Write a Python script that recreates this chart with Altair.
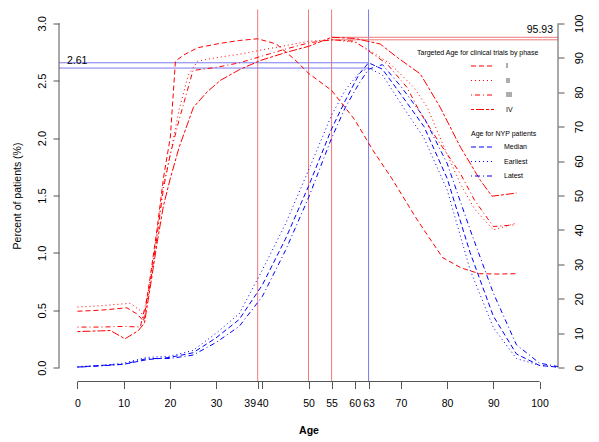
import altair as alt
import pandas as pd

FONT = "Liberation Sans"

# ---------------- data ----------------
phases = ["I", "II", "III", "IV"]
stats = ["Median", "Earliest", "Latest"]

# Targeted age for clinical trials by phase (right axis, 0-100)
I_age = [0, 5, 10.7, 13, 14.3, 15.7, 17.2, 18.6, 20.1, 21.2, 23, 26, 31, 35, 39, 43, 47, 50, 55, 60, 64, 68, 73.5, 79, 83, 87, 91, 95]
I_val = [16.4, 16.7, 17.4, 15.5, 13.5, 26, 40, 55, 67, 89, 90.8, 92.9, 94.2, 95.0, 95.5, 94.0, 89.5, 85.5, 80.5, 72, 63, 55, 43, 32, 29, 27.3, 27.2, 27.3]

II_age = [0, 5, 11.4, 13.6, 14.5, 15.7, 17.2, 18.6, 20.1, 22, 24, 26, 30, 35, 40, 45, 50, 55, 60, 63.4, 67.7, 72.8, 75.7, 80, 83, 86, 90, 95]
II_val = [17.6, 18.0, 18.7, 16.6, 14, 25, 39, 53, 62, 75, 85, 89, 90, 91, 92.3, 93.5, 94.8, 95.2, 94.5, 92, 88.2, 81.4, 75.6, 62, 53, 46, 40, 42]

III_age = [0, 5, 10, 13.6, 15.7, 17.2, 18.6, 20.1, 22, 25, 30, 35, 40, 45, 50, 55, 60, 63.4, 67, 71.3, 74.2, 78, 82.9, 86, 90, 95]
III_val = [11.8, 11.8, 12, 11.8, 24, 38, 52, 62, 72, 86.3, 87.2, 88.5, 90.5, 92.5, 94.3, 95.2, 94.8, 91.6, 88.2, 81.4, 74, 66, 56.3, 48.5, 41, 41.5]

IV_age = [0, 5, 7.1, 10.3, 13.2, 14.5, 15.7, 17.2, 18.6, 20.1, 22, 25.1, 28, 30.9, 35, 39.6, 45.3, 50, 55, 60, 65.5, 69.2, 74.2, 78.5, 82.9, 87.2, 89.7, 95]
IV_val = [10.5, 10.7, 10.8, 8.4, 10.8, 13, 23, 36, 47, 55, 64, 75.6, 80, 83.4, 86.5, 89.2, 91.6, 93.3, 95.93, 95.6, 94, 90.1, 85.3, 75.6, 64, 54.4, 49.8, 50.7]

# Age for NYP patients (left axis, percent)
nyp_age = [0, 5, 10, 15, 20, 25, 30, 35, 40, 45, 50, 55, 58, 61, 63, 66, 70, 75, 80, 85, 90, 95, 100, 104]
median_pct = [0.005, 0.02, 0.03, 0.07, 0.09, 0.13, 0.26, 0.42, 0.72, 1.12, 1.58, 2.08, 2.33, 2.56, 2.656, 2.6, 2.38, 2.1, 1.65, 1.0, 0.45, 0.12, 0.02, 0.005]
earliest_pct = [0.01, 0.02, 0.04, 0.09, 0.10, 0.15, 0.30, 0.47, 0.85, 1.25, 1.72, 2.2, 2.42, 2.57, 2.61, 2.55, 2.3, 2.0, 1.55, 0.85, 0.35, 0.08, 0.02, 0.005]
latest_pct = [0.005, 0.015, 0.03, 0.08, 0.08, 0.11, 0.22, 0.36, 0.62, 1.02, 1.48, 2.0, 2.27, 2.48, 2.6, 2.64, 2.45, 2.18, 1.78, 1.2, 0.65, 0.2, 0.04, 0.01]

x_ticks = [0, 10, 20, 30, 39, 40, 50, 55, 60, 63, 70, 80, 90, 100]
left_ticks = [0, 0.5, 1.0, 1.5, 2.0, 2.5, 3.0]
right_ticks = [0, 10, 20, 30, 40, 50, 60, 70, 80, 90, 100]
red_vlines = [39, 50, 55]
blue_vlines = [63]
blue_hlines = [2.656, 2.61]
red_hlines = [95.93, 95.2]
blue_label = [2.61]
red_label = [95.93]

X_DOMAIN = [-4, 104]
YL_DOMAIN = [-0.12, 3.12]
YR_DOMAIN = [-4, 104]

RED = "#ff0000"
BLUE = "#0000ff"
RED_GUIDE = "#ee7a7a"
BLUE_GUIDE = "#7a7aee"
AXIS_COL = "#555555"

# ---------------- tables ----------------
red_parts = []
for p, a, v in zip(phases, [I_age, II_age, III_age, IV_age], [I_val, II_val, III_val, IV_val]):
    red_parts.append(pd.DataFrame({"age": a, "v": v, "phase": p}))
df_red = pd.concat(red_parts, ignore_index=True)

blue_parts = []
for s, v in zip(stats, [median_pct, earliest_pct, latest_pct]):
    blue_parts.append(pd.DataFrame({"age": nyp_age, "v": v, "stat": s}))
df_blue = pd.concat(blue_parts, ignore_index=True)

# ---------------- scales / axes ----------------
xscale = alt.Scale(domain=X_DOMAIN, nice=False, zero=False)
ylscale = alt.Scale(domain=YL_DOMAIN, nice=False, zero=False)
yrscale = alt.Scale(domain=YR_DOMAIN, nice=False, zero=False)

xaxis = alt.Axis(values=x_ticks, format="d", title="Age", labelOverlap=False, labelFlush=False,
                 domain=False, grid=False, tickSize=7, tickColor=AXIS_COL, labelPadding=10,
                 labelFontSize=10.5, titleFontSize=10.5, titleFontWeight="bold",
                 titleBaseline="top", titleY=44,
                 labelOffset={"condition": {"test": "datum.value == 39", "value": -8}, "value": 0})
ylaxis = alt.Axis(orient="left", values=left_ticks, format=".1f", labelAngle=270, labelAlign="center",
                  labelBaseline="alphabetic", labelPadding=8, tickSize=6, tickColor=AXIS_COL,
                  domain=False, grid=False, labelFontSize=11,
                  title="Percent of patients (%)", titleAngle=270, titleAlign="center",
                  titleBaseline="alphabetic", titleX=-39, titleY=186, titleFontSize=10.5,
                  titleFontWeight="normal")
yraxis = alt.Axis(orient="right", values=right_ticks, format="d", labelAngle=270, labelAlign="center",
                  labelBaseline="top", labelPadding=9, tickSize=6, tickColor=AXIS_COL,
                  domain=False, grid=False, labelFontSize=11, title=None)

X = lambda f: alt.X(f, type="quantitative", scale=xscale, axis=xaxis)
YL = lambda f: alt.Y(f, type="quantitative", scale=ylscale, axis=ylaxis)
YR = lambda f: alt.Y(f, type="quantitative", scale=yrscale, axis=yraxis)

legend_common = dict(orient="none", titleFontSize=7, titleFontWeight="normal", titleFont=FONT,
                     titleColor="black", labelFontSize=7, labelFont=FONT, labelColor="black",
                     symbolType="M-3,0H3", symbolSize=59, symbolStrokeWidth=1.1, padding=0,
                     direction="vertical", titlePadding=6, rowPadding=6.5)
red_legend = alt.Legend(title="Targeted Age for clinical trials by phase", legendX=358, legendY=39,
                        symbolOffset=61, labelOffset=19, **legend_common)
blue_legend = alt.Legend(title="Age for NYP patients", legendX=412, legendY=120,
                         symbolOffset=7, labelOffset=17, **legend_common)

dash_red = [[5, 3], [1, 3], [1, 3, 5, 3], [3, 2, 8, 2]]
dash_blue = [[5, 3], [1, 3], [1, 3, 5, 3]]

# ---------------- left (percent) group ----------------
vr_red = alt.Chart(pd.DataFrame({"x": red_vlines})).mark_rule(color=RED_GUIDE, strokeWidth=1).encode(x=X("x"))
vr_blue = alt.Chart(pd.DataFrame({"x": blue_vlines})).mark_rule(color=BLUE_GUIDE, strokeWidth=1).encode(x=X("x"))
hr_blue = alt.Chart(pd.DataFrame({"y": blue_hlines, "x": [X_DOMAIN[0]] * 2, "x2": blue_vlines * 2})).mark_rule(
    color=BLUE_GUIDE, strokeWidth=1).encode(x=X("x"), x2="x2", y=YL("y"))
blue_lines = alt.Chart(df_blue).mark_line(strokeWidth=1).encode(
    x=X("age"), y=YL("v"),
    color=alt.Color("stat:N", scale=alt.Scale(domain=stats, range=[BLUE] * 3), legend=blue_legend),
    strokeDash=alt.StrokeDash("stat:N", scale=alt.Scale(domain=stats, range=dash_blue), legend=blue_legend),
    detail="stat:N")
blue_text = alt.Chart(pd.DataFrame({"y": blue_label, "x": [X_DOMAIN[0]]})).mark_text(
    align="left", baseline="alphabetic", dx=8, dy=-4.5, fontSize=10.5, font=FONT, color="black").encode(
    x=X("x"), y=YL("y"), text=alt.Text("y:Q", format=".2f"))
bottom_line = alt.Chart(pd.DataFrame({"x": [x_ticks[0]], "x2": [x_ticks[-1]], "y": [YL_DOMAIN[0]]})).mark_rule(
    color=AXIS_COL, strokeWidth=1).encode(x=X("x"), x2="x2", y=YL("y"))
left_line = alt.Chart(pd.DataFrame({"x": [X_DOMAIN[0]], "y": [left_ticks[0]], "y2": [left_ticks[-1]]})).mark_rule(
    color=AXIS_COL, strokeWidth=1).encode(x=X("x"), y=YL("y"), y2="y2")

left_group = alt.layer(vr_red, vr_blue, hr_blue, bottom_line, left_line, blue_lines, blue_text)

# ---------------- right (trials) group ----------------
hr_red = alt.Chart(pd.DataFrame({"y": red_hlines, "x": [red_vlines[-1]] * 2, "x2": [X_DOMAIN[1]] * 2})).mark_rule(
    color=RED_GUIDE, strokeWidth=1).encode(x=X("x"), x2="x2", y=YR("y"))
red_lines = alt.Chart(df_red).mark_line(strokeWidth=1).encode(
    x=X("age"), y=YR("v"),
    color=alt.Color("phase:N", scale=alt.Scale(domain=phases, range=[RED] * 4), legend=red_legend),
    strokeDash=alt.StrokeDash("phase:N", scale=alt.Scale(domain=phases, range=dash_red), legend=red_legend),
    detail="phase:N")
red_text = alt.Chart(pd.DataFrame({"y": red_label, "x": [X_DOMAIN[1]]})).mark_text(
    align="right", baseline="alphabetic", dx=-5, dy=-4, fontSize=10.5, font=FONT, color="black").encode(
    x=X("x"), y=YR("y"), text=alt.Text("y:Q", format=".2f"))
right_line = alt.Chart(pd.DataFrame({"x": [X_DOMAIN[1]], "y": [right_ticks[0]], "y2": [right_ticks[-1]]})).mark_rule(
    color=AXIS_COL, strokeWidth=1).encode(x=X("x"), y=YR("y"), y2="y2")

right_group = alt.layer(hr_red, right_line, red_lines, red_text)

chart = alt.layer(left_group, right_group).resolve_scale(
    y="independent", color="independent", strokeDash="independent"
).resolve_legend(color="independent", strokeDash="independent").properties(
    width=499, height=372, autosize=alt.AutoSizeParams(type="none"),
    padding={"left": 51, "top": 1.5, "right": 33, "bottom": 60}
).configure(font=FONT, background="white").configure_view(stroke=None).configure_axis(
    labelFont=FONT, titleFont=FONT, labelColor="black", titleColor="black")

chart.save("out.html", embed_options={"renderer": "svg", "actions": False})
